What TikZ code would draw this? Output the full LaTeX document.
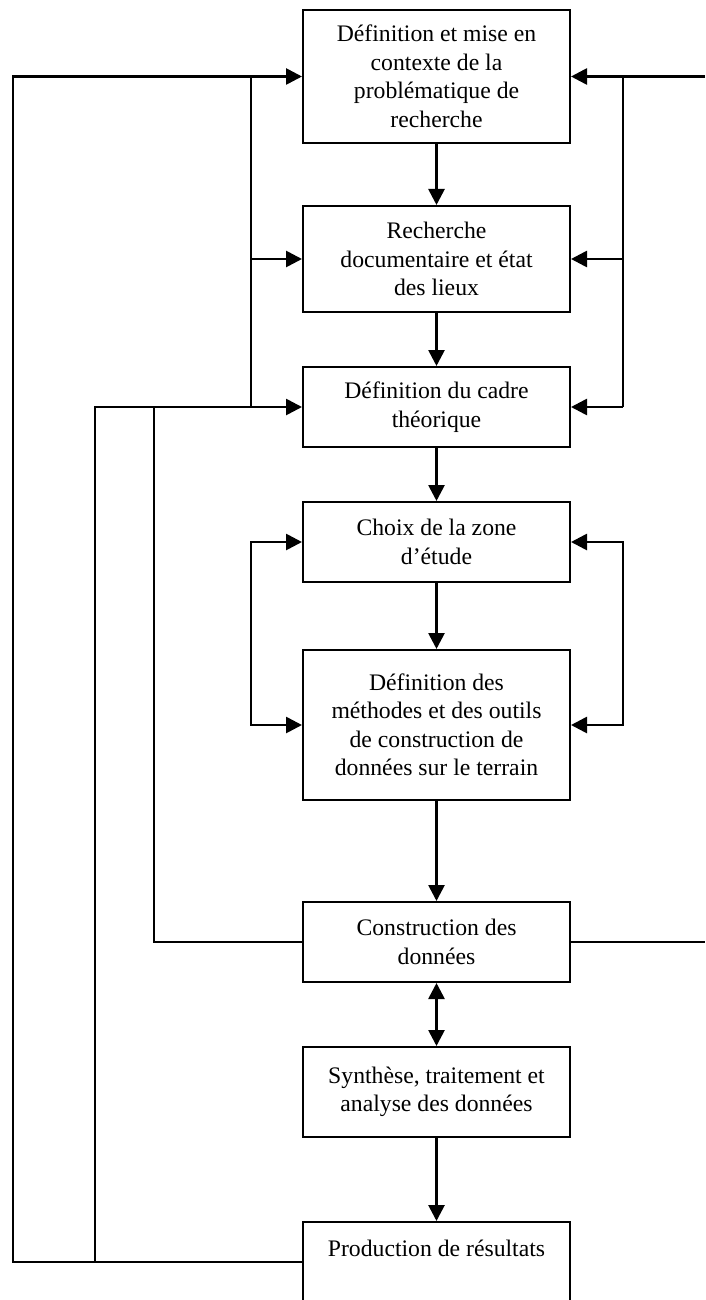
\documentclass[tikz,border=0pt]{standalone}
\usepackage{fontspec}
\setmainfont{Liberation Serif}
\usetikzlibrary{arrows.meta}
\newcommand{\boxfont}{\fontsize{23.7pt}{28.5pt}\selectfont}
\begin{document}
\begin{tikzpicture}[x=1pt,y=-1pt,
  stepbox/.style={draw, line width=2pt, minimum width=267pt, inner sep=0pt,
    align=center, font=\boxfont},
  wire/.style={line width=2.7pt},
  link/.style={wire, -{Triangle[length=16pt,width=16pt]}},
  twoway/.style={wire, {Triangle[length=16pt,width=16pt]}-{Triangle[length=16pt,width=16pt]}}]
  \path[fill=white] (0,0) rectangle (705,1300);
  \useasboundingbox (0,0) rectangle (705,1300);

  % process steps
  \node[stepbox, minimum height=133pt] (b1) at (436.5,76.5)
    {Définition et mise en\\contexte de la\\problématique de\\recherche};
  \node[stepbox, minimum height=106pt] (b2) at (436.5,259)
    {Recherche\\documentaire et état\\des lieux};
  \node[stepbox, minimum height=80pt] (b3) at (436.5,407)
    {Définition du cadre\\théorique};
  \node[stepbox, minimum height=80pt] (b4) at (436.5,542)
    {Choix de la zone\\d’étude};
  \node[stepbox, minimum height=150pt] (b5) at (436.5,725)
    {Définition des\\méthodes et des outils\\de construction de\\données sur le terrain};
  \node[stepbox, minimum height=80pt] (b6) at (436.5,942)
    {Construction des\\données};
  \node[stepbox, minimum height=90pt] (b7) at (436.5,1092)
    {Synthèse, traitement et\\analyse des données};
  \node[stepbox, minimum height=80pt] (b8) at (436.5,1262)
    {Production de résultats\\\mbox{}};

  % vertical positions of the feedback buses
  \coordinate (xo) at (13,0);
  \coordinate (xm) at (95,0);
  \coordinate (xi) at (154,0);
  \coordinate (xb) at (251,0);
  \coordinate (xr) at (623,0);
  \coordinate (xe) at (705,0);

  % main sequence
  \draw[link] (b1) -- (b2);
  \draw[link] (b2) -- (b3);
  \draw[link] (b3) -- (b4);
  \draw[link] (b4) -- (b5);
  \draw[link] (b5) -- (b6);
  \draw[twoway] (b6) -- (b7);
  \draw[link] (b7) -- (b8);

  % left feedback loops
  \draw[link] (b8.west) -- (xo |- b8.west) -- (xo |- b1.west) -- (b1.west);
  \draw[link] (xm |- b8.west) -- (xm |- b3.west) -- (b3.west);
  \draw[wire] (b6.west) -- (xi |- b6.west) -- (xi |- b3.west);
  \draw[wire] (xb |- b3.west) -- (xb |- b1.west);
  \draw[link] (xb |- b2.west) -- (b2.west);

  % right feedback loops
  \draw[wire] (b6.east) -- (xe |- b6.east);
  \draw[link] (xe |- b1.east) -- (b1.east);
  \draw[wire] (xr |- b1.east) -- (xr |- b3.east);
  \draw[link] (xr |- b2.east) -- (b2.east);
  \draw[link] (xr |- b3.east) -- (b3.east);

  % loops between zone choice and methods
  \draw[twoway] (b4.west) -- (xb |- b4.west) -- (xb |- b5.west) -- (b5.west);
  \draw[twoway] (b4.east) -- (xr |- b4.east) -- (xr |- b5.east) -- (b5.east);
\end{tikzpicture}
\end{document}
